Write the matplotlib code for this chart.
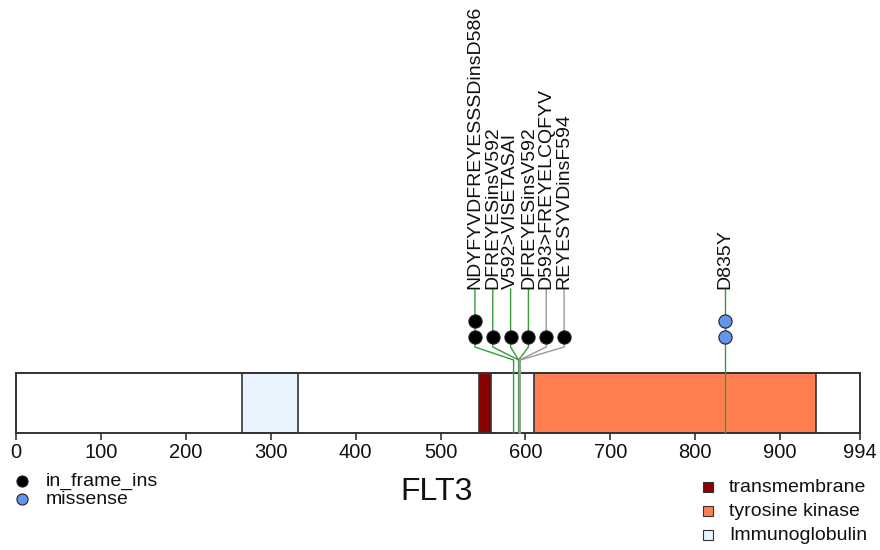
import numpy as np
import matplotlib.pyplot as plt

plt.rcParams['font.family'] = ['Liberation Sans', 'DejaVu Sans']

# protein and domains
gene = "FLT3"
protein_len = 994
domain_names = ["transmembrane", "tyrosine kinase", "Immunoglobulin"]
domain_starts = [545, 610, 266]
domain_ends = [559, 942, 332]
domain_colors = ["#8B0000", "#FF7F50", "#EAF4FF"]

# mutations (position, label, type, count)
mut_labels = ["NDYFYVDFREYESSSDinsD586", "DFREYESinsV592", "V592>VISETASAI",
              "DFREYESinsV592", "D593>FREYELCQFYV", "REYESYVDinsF594", "D835Y"]
mut_pos = [586, 592, 592, 592, 593, 594, 835]
mut_type = ["in_frame_ins"] * 6 + ["missense"]
mut_count = [2, 1, 1, 1, 1, 1, 2]
stem_colors = ["#3a9a3a", "#3a9a3a", "#3a9a3a", "#3a9a3a", "#999999", "#999999", "#3a9a3a"]

type_names = ["in_frame_ins", "missense"]
type_colors = {"in_frame_ins": "#000000", "missense": "#6495ED"}

W, H = 880, 550
x0, x1 = 16, 860          # pixel extent of the protein axis
bar_top, bar_bot = 373, 433

fig = plt.figure(figsize=(W / 100, H / 100), dpi=100)

# protein bar with domains
ax = fig.add_axes([x0 / W, 1 - bar_bot / H, (x1 - x0) / W, (bar_bot - bar_top) / H])
ax.set_xlim(0, protein_len)
ax.set_ylim(0, 1)
widths = [e - s for s, e in zip(domain_starts, domain_ends)]
ax.bar(domain_starts, 1, width=widths, bottom=0, align='edge', color=domain_colors,
       edgecolor='#333333', linewidth=1.2, zorder=2)
ax.set_xticks(list(range(0, 1000, 100)) + [protein_len])
ax.set_yticks([])
ax.tick_params(axis='x', length=5, width=1.2, color='#333333', pad=2,
               labelsize=14.5, labelcolor='#111111')
for sp in ax.spines.values():
    sp.set_color('#333333')
    sp.set_linewidth(1.4)
    sp.set_zorder(5)

# overlay for lollipops: x in residues, y in pixels
ov = fig.add_axes([x0 / W, 0, (x1 - x0) / W, 1])
ov.set_xlim(0, protein_len)
ov.set_ylim(H, 0)
ov.axis('off')

# spread heads of nearby mutations so they do not overlap
min_gap = 21
pos = np.array(mut_pos, dtype=float)
head_x = pos.copy()
groups = [[0]]
for i in range(1, len(pos)):
    if pos[i] - pos[groups[-1][-1]] < min_gap * len(groups[-1]):
        groups[-1].append(i)
    else:
        groups.append([i])
for g in groups:
    if len(g) < 2:
        continue
    c = pos[g].mean() + 1.5
    for k, i in enumerate(g):
        head_x[i] = c + (k - (len(g) - 1) / 2) * min_gap

head_base = 337
head_step = 16
bend_top, bend_bot = 347, 360
label_y = 289

for i in range(len(pos)):
    col = stem_colors[i]
    # bent connector from head down to the residue, through the bar
    ov.plot([head_x[i], head_x[i], pos[i], pos[i]],
            [label_y, bend_top, bend_bot, bar_bot],
            color=col, lw=1.0, zorder=1, clip_on=False)
    ys = [head_base - head_step * k for k in range(mut_count[i])]
    ov.plot([head_x[i]] * len(ys), ys, 'o', ms=9.5,
            color=type_colors[mut_type[i]], mec='#222222', mew=0.8,
            zorder=3, clip_on=False)
    ov.text(head_x[i], label_y, mut_labels[i], rotation=90, ha='center',
            va='bottom', fontsize=14, color='#111111')

# legends and gene name in pixel coordinates
lg = fig.add_axes([0, 0, 1, 1])
lg.set_xlim(0, W)
lg.set_ylim(H, 0)
lg.axis('off')

for k, t in enumerate(type_names):
    y = 481 + 18 * k
    lg.plot(22, y, 'o', ms=8, color=type_colors[t], mec='#222222', mew=0.8)
    lg.text(46, y, t, fontsize=14, va='center', ha='left', color='#111111')

for k, (n, c) in enumerate(zip(domain_names, domain_colors)):
    y = 487 + 24 * k
    lg.plot(708, y, 's', ms=7, color=c, mec='#333333', mew=0.8)
    lg.text(729, y, n, fontsize=14, va='center', ha='left', color='#111111')

lg.text(437, 492, gene, fontsize=23, ha='center', va='center', color='#111111')

fig.savefig("out.png", dpi=100)
